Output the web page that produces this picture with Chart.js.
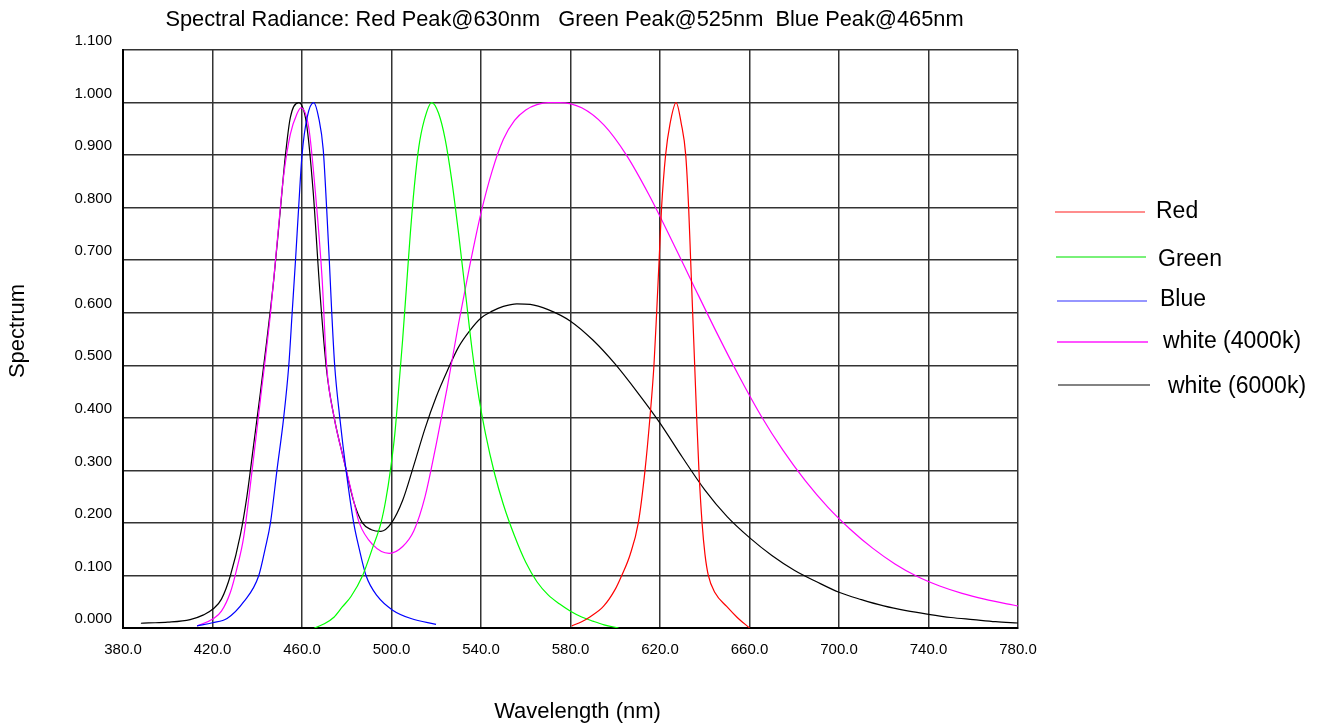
<!DOCTYPE html>
<html>
<head>
<meta charset="utf-8">
<script src="https://cdn.jsdelivr.net/npm/chart.js@4.4.1/dist/chart.umd.min.js"></script>
<style>
  html, body { margin: 0; padding: 0; background: #fff; }
  #wrap { width: 1321px; height: 727px; position: relative; }
</style>
</head>
<body>
<div id="wrap"><canvas id="c" width="1321" height="727"></canvas></div>
<script>
// ---- Data (wavelength in nm, relative spectrum) ----
const chartTitle = 'Spectral Radiance: Red Peak@630nm   Green Peak@525nm  Blue Peak@465nm';
const xAxisTitle = 'Wavelength (nm)';
const yAxisTitle = 'Spectrum';
const seriesLabels = ['Red', 'Green', 'Blue', 'white (4000k)', 'white (6000k)'];

const redNm  = [580.6,585,589,594.7,599.9,602.9,606.6,610.3,613.3,615.5,617.3,618.5,619.6,620.7,622.5,624.5,627.2,629.5,631.5,632.8,633.7,634.6,635.5,636.4,637.4,638.8,640.1,641.6,644.6,649.8,654.3,660];
const redVal = [0.004,0.012,0.022,0.041,0.073,0.1,0.139,0.2,0.3,0.4,0.5,0.6,0.7,0.8,0.9,0.96,1.0,0.96,0.9,0.8,0.7,0.6,0.5,0.4,0.3,0.2,0.14,0.1,0.067,0.041,0.021,0.0];

const greenNm  = [465.5,470,474.4,478,481.9,487.1,491.5,495.3,497.5,499.5,501.5,503.3,505,506.7,508.4,510.2,512.2,514.6,518,521,524,527,530,533,536,539,542,546,550,555,560,565,570,575,580,585,590,595,601.5];
const greenVal = [0.0,0.008,0.021,0.04,0.06,0.1,0.152,0.2,0.245,0.3,0.37,0.46,0.55,0.65,0.75,0.84,0.915,0.966,1.0,0.98,0.93,0.85,0.75,0.64,0.53,0.44,0.37,0.295,0.235,0.175,0.125,0.088,0.063,0.046,0.032,0.021,0.013,0.006,0.0];

const blueNm  = [413.1,420,426.5,434,440.7,443.6,445.9,448.8,451.8,454.1,455.6,457.1,458.5,460,462.3,465.2,467.5,469.5,471,472.2,473.3,474.6,476.9,479.7,483.1,485.5,488.6,493.8,500.5,508.7,519.9];
const blueVal = [0.004,0.01,0.018,0.05,0.1,0.152,0.2,0.3,0.4,0.5,0.6,0.7,0.8,0.9,0.972,1.0,0.97,0.91,0.8,0.7,0.6,0.5,0.4,0.3,0.2,0.152,0.1,0.06,0.034,0.018,0.007];

const w4000Nm  = [413.1,420.5,424,428,431,433.9,437.7,441.4,445.9,448.8,451.8,454.8,457.8,459.5,463,466,469,471,474.4,478.9,483.3,485.6,491.5,499,505,510,515,520,525,530,535,540,545,550,555,560,565,570,575,585,595,605,615,625,635,645,655,665,675,685,695,705,715,725,735,745,755,765,775,780];
const w4000Val = [0.004,0.018,0.032,0.068,0.115,0.172,0.3,0.434,0.598,0.73,0.861,0.94,0.979,0.99,0.953,0.828,0.664,0.5,0.4,0.316,0.238,0.2,0.159,0.142,0.155,0.185,0.25,0.35,0.46,0.58,0.69,0.79,0.87,0.93,0.966,0.986,0.996,1.0,1.0,0.99,0.957,0.9,0.825,0.74,0.652,0.565,0.482,0.405,0.338,0.28,0.23,0.188,0.152,0.122,0.098,0.08,0.066,0.055,0.046,0.042];

const w6000Nm  = [388,391.4,400,410,416,420.5,424,428,432.5,435.4,438.4,441.4,444.4,447.4,450.3,452.6,454.8,458.5,462,465,468,471,474.4,478.9,483.3,487,491,495.3,500,505,510,515,520,525,530,535,540,545,550,556,562,570,580,590,600,610,620,630,640,650,660,670,680,690,700,710,720,730,740,750,760,770,780];
const w6000Val = [0.009,0.0096,0.011,0.016,0.025,0.037,0.055,0.1,0.178,0.251,0.349,0.448,0.552,0.664,0.795,0.9,0.972,1.0,0.96,0.83,0.64,0.49,0.4,0.316,0.238,0.2,0.187,0.184,0.2,0.243,0.31,0.38,0.44,0.49,0.535,0.566,0.59,0.603,0.612,0.617,0.616,0.606,0.584,0.548,0.502,0.448,0.39,0.325,0.263,0.212,0.172,0.138,0.11,0.088,0.068,0.054,0.042,0.033,0.026,0.02,0.016,0.012,0.0095];

const seriesColors = ['#ff0000', '#00ff00', '#0000ff', '#ff00ff', '#000000'];
const legendColors = ['rgba(255,0,0,0.6)', 'rgba(0,230,0,0.7)', 'rgba(40,40,255,0.65)', 'rgba(255,0,255,0.9)', 'rgba(0,0,0,0.65)'];

function pts(xs, ys) { return xs.map((x, i) => ({ x: x, y: ys[i] })); }

const seriesData = [pts(redNm, redVal), pts(greenNm, greenVal), pts(blueNm, blueVal), pts(w4000Nm, w4000Val), pts(w6000Nm, w6000Val)];

const FONT = '"Liberation Sans", Arial, Helvetica, sans-serif';

// layout of the hand-drawn legend (line start/end, y, text x, text y)
const legendLayout = [
  [1055, 1145, 212, 1156, 212],
  [1056, 1146, 257, 1158, 260],
  [1057, 1147, 301, 1160, 300],
  [1057, 1148, 342, 1163, 342],
  [1058, 1150, 385, 1168, 387]
];

const textPlugin = {
  id: 'texts',
  afterDraw(chart) {
    const ctx = chart.ctx;
    const ca = chart.chartArea;
    ctx.save();
    ctx.fillStyle = '#000';
    ctx.textBaseline = 'middle';
    ctx.textAlign = 'center';
    ctx.font = '21.8px ' + FONT;
    ctx.fillText(chartTitle, (ca.left + ca.right) / 2 - 6, 20);
    ctx.font = '22px ' + FONT;
    ctx.fillText(xAxisTitle, (ca.left + ca.right) / 2 + 7, 712);
    ctx.save();
    ctx.translate(18, 331);
    ctx.rotate(-Math.PI / 2);
    ctx.fillText(yAxisTitle, 0, 0);
    ctx.restore();
    // legend
    ctx.textAlign = 'left';
    ctx.font = '23px ' + FONT;
    chart.data.datasets.forEach((ds, i) => {
      const L = legendLayout[i];
      ctx.strokeStyle = legendColors[i];
      ctx.lineWidth = 1.6;
      ctx.beginPath();
      ctx.moveTo(L[0], L[2]);
      ctx.lineTo(L[1], L[2]);
      ctx.stroke();
      ctx.fillStyle = '#000';
      ctx.fillText(ds.label, L[3], L[4]);
    });
    ctx.restore();
  }
};

new Chart(document.getElementById('c'), {
  type: 'line',
  data: {
    datasets: seriesLabels.map((lab, i) => ({
      label: lab,
      data: seriesData[i],
      borderColor: seriesColors[i],
      backgroundColor: seriesColors[i],
      borderWidth: 1.2,
      pointRadius: 0,
      fill: false,
      cubicInterpolationMode: 'monotone'
    }))
  },
  options: {
    responsive: false,
    animation: false,
    devicePixelRatio: 1,
    layout: { padding: { top: 50, right: 303, left: 0, bottom: 0 } },
    plugins: { legend: { display: false }, title: { display: false }, tooltip: { enabled: false } },
    scales: {
      x: {
        type: 'linear',
        min: 380, max: 780,
        afterFit(s) { s.height = 99; },
        ticks: {
          stepSize: 40,
          color: '#000',
          font: { family: FONT, size: 15 },
          padding: 13,
          maxRotation: 0,
          autoSkip: false,
          callback: v => Number(v).toFixed(1)
        },
        grid: { color: '#333', lineWidth: 1.5, drawTicks: false },
        border: { display: true, color: '#000', width: 2 }
      },
      y: {
        type: 'linear',
        min: 0, max: 1.1,
        afterFit(s) { s.width = 123; },
        ticks: {
          stepSize: 0.1,
          color: '#000',
          font: { family: FONT, size: 15 },
          padding: 11,
          labelOffset: -9,
          callback: v => Number(v).toFixed(3)
        },
        grid: { color: '#333', lineWidth: 1.5, drawTicks: false },
        border: { display: true, color: '#000', width: 2 }
      }
    }
  },
  plugins: [textPlugin]
});
</script>
</body>
</html>
